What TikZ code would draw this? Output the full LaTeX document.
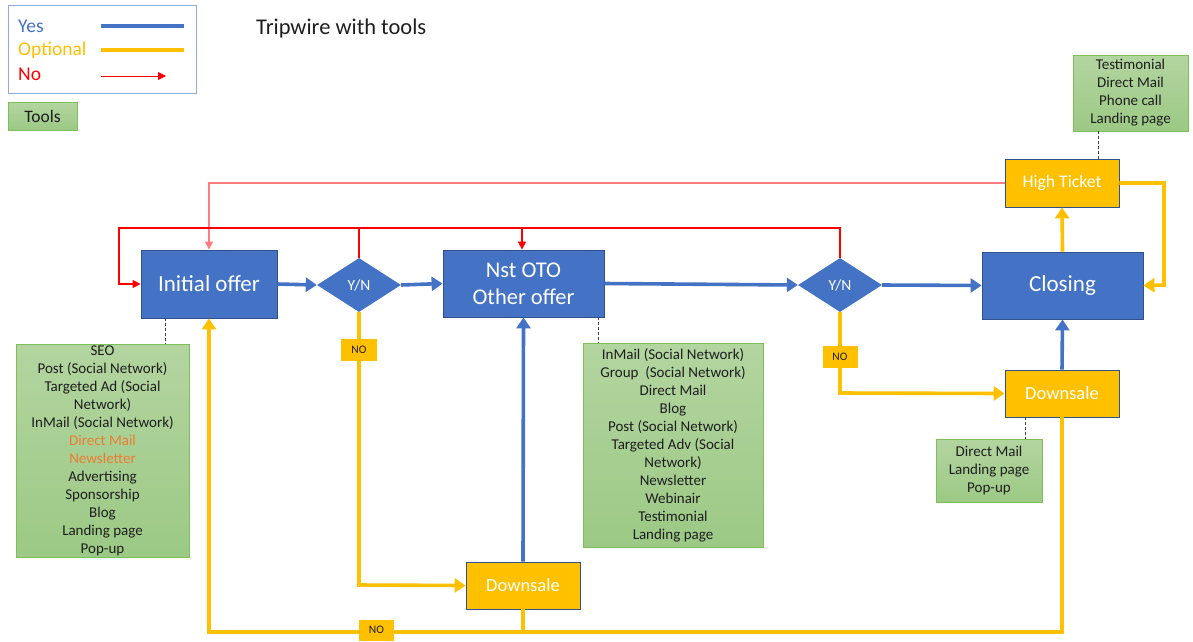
\documentclass[tikz,border=0pt]{standalone}
\usepackage{fontspec}
\setmainfont{Carlito}
\usetikzlibrary{arrows.meta,shapes.geometric}
\definecolor{offerblue}{HTML}{4472C4}
\definecolor{edgeblue}{HTML}{2F528F}
\definecolor{gold}{HTML}{FFC000}
\definecolor{greentop}{HTML}{B3D5A0}
\definecolor{greenbot}{HTML}{9CC985}
\definecolor{greenedge}{HTML}{7FBF5A}
\definecolor{legendedge}{HTML}{8FAADC}
\definecolor{softred}{HTML}{FF7C80}
\definecolor{toolorange}{HTML}{ED7D31}
\definecolor{inktext}{HTML}{1E1E1E}
\tikzset{
  offer/.style={draw=edgeblue, line width=0.8pt, fill=offerblue, text=white, inner sep=0pt, align=center},
  choice/.style={diamond, aspect=1.55, fill=offerblue, text=white, inner sep=0pt,
    minimum width=84pt, minimum height=54pt, font=\fontsize{15.5}{18}\selectfont},
  goldbox/.style={draw=edgeblue, line width=0.8pt, fill=gold, text=white, inner sep=0pt,
    font=\fontsize{18.5}{22}\selectfont},
  toolbox/.style={draw=greenedge, line width=0.8pt, top color=greentop, bottom color=greenbot,
    text=inktext, inner sep=0pt, align=center, font=\fontsize{15}{18}\selectfont},
  nolabel/.style={fill=gold, text=inktext, inner sep=0pt, minimum width=36pt, minimum height=22pt,
    font=\fontsize{11.5}{13}\selectfont},
  yesline/.style={draw=offerblue, line width=3.6pt, -{Triangle[length=11pt,width=14pt]}},
  optline/.style={draw=gold, line width=3.6pt},
  optarrow/.style={optline, -{Triangle[length=11pt,width=14pt]}},
  noline/.style={draw=red, line width=1.3pt},
  noarrow/.style={noline, -{Triangle[length=8pt,width=8pt]}},
  toollink/.style={draw=black!75, line width=0.8pt, dashed, dash pattern=on 3pt off 2pt},
  legendtext/.style={anchor=west, font=\fontsize{19.5}{22}\selectfont, inner sep=0pt}
}
\begin{document}
\begin{tikzpicture}[x=1pt,y=-1pt]
\useasboundingbox (0,0) rectangle (1193,641);

% legend
\node[draw=legendedge, line width=1pt, minimum width=188pt, minimum height=88pt, inner sep=0pt] (legend) at (102,49) {};
\node[legendtext, text=offerblue] (lgyes) at (18,26) {Yes};
\node[legendtext, text=gold] (lgopt) at (18,50) {Optional};
\node[legendtext, text=red] (lgno) at (18,74) {No};
\coordinate (ya) at (101,26); \coordinate (yb) at (184,26);
\coordinate (oa) at (101,50); \coordinate (ob) at (184,50);
\coordinate (na) at (101,76); \coordinate (nb) at (166,76);
\draw[draw=offerblue, line width=3.6pt] (ya) -- (yb);
\draw[optline] (oa) -- (ob);
\draw[noarrow, line width=1pt] (na) -- (nb);
\node[toolbox, minimum width=69pt, minimum height=28pt, font=\fontsize{17.5}{20}\selectfont] (tools) at (42.5,116) {Tools};

% title
\node[anchor=west, text=inktext, font=\fontsize{22.5}{26}\selectfont, inner sep=0pt] (title) at (256,28) {Tripwire with tools};

% main flow
\node[offer, minimum width=136pt, minimum height=68pt, font=\fontsize{23}{27}\selectfont] (init) at (209,284) {Initial offer};
\node[choice] (yn1) at (359,285) {Y/N};
\node[offer, minimum width=161pt, minimum height=67pt, font=\fontsize{22.5}{27}\selectfont] (oto) at (523.5,283.5) {Nst OTO\\Other offer};
\node[choice] (yn2) at (840,285) {Y/N};
\node[offer, minimum width=161pt, minimum height=67pt, font=\fontsize{23}{27}\selectfont] (close) at (1062.5,285.5) {Closing};
\node[goldbox, minimum width=114pt, minimum height=48pt, font=\fontsize{17.7}{21}\selectfont] (high) at (1062,183) {High Ticket};
\node[goldbox, minimum width=114pt, minimum height=47pt] (downr) at (1062,393.5) {Downsale};
\node[goldbox, minimum width=114pt, minimum height=47pt] (downb) at (523,585.5) {Downsale};

% tool lists
\node[toolbox, minimum width=173pt, minimum height=213pt] (t1) at (102.5,450.5)
  {SEO\\Post (Social Network)\\Targeted Ad (Social\\Network)\\InMail (Social Network)\\
   \textcolor{toolorange}{Direct Mail}\\\textcolor{toolorange}{Newsletter}\\Advertising\\
   Sponsorship\\Blog\\Landing page\\Pop-up};
\node[toolbox, minimum width=180pt, minimum height=204pt] (t2) at (673,445)
  {InMail (Social Network)\\Group\ \ (Social Network)\\Direct Mail\\Blog\\Post (Social Network)\\
   Targeted Adv (Social\\Network)\\Newsletter\\Webinair\\Testimonial\\Landing page};
\node[toolbox, minimum width=106pt, minimum height=63pt] (t3) at (989,470.5)
  {Direct Mail\\Landing page\\Pop-up};
\node[toolbox, minimum width=115pt, minimum height=76pt] (t4) at (1130.5,93)
  {Testimonial\\Direct Mail\\Phone call\\Landing page};

% dashed links from offers to their tools
\draw[toollink] (init.south -| 165,0) -- (t1.north -| 165,0);
\draw[toollink] (oto.south -| 598,0) -- (t2.north -| 598,0);
\draw[toollink] (downr.south -| 1025,0) -- (t3.north -| 1025,0);
\draw[toollink] (t4.south -| 1098,0) -- (high.north -| 1098,0);

% yes connectors
\draw[yesline] (init.east) -- (yn1.west);
\draw[yesline] (yn1.east) -- (oto.west);
\draw[yesline] (oto.east) -- (yn2.west);
\draw[yesline] (yn2.east) -- (close.west);
\draw[yesline] (downb.north) -- (oto.south);
\draw[yesline] (downr.north) -- (close.south);

% optional connectors
\coordinate (c1) at (359,585);
\coordinate (c2) at (840,393);
\coordinate (c3) at (1164,183);
\coordinate (c4) at (1164,285);
\coordinate (c5) at (1062,632);
\coordinate (c6) at (209,632);
\coordinate (c7) at (523,632);
\draw[optarrow] (yn1.south) -- (c1) -- (downb.west);
\draw[optarrow] (yn2.south) -- (c2) -- (downr.west);
\draw[optarrow] (close.north) -- (high.south);
\draw[optarrow] (high.east) -- (c3) -- (c4) -- (close.east);
\draw[optarrow] (downr.south) -- (c5) -- (c6) -- (init.south -| c6);
\draw[optline] (downb.south) -- (c7);

% "no" labels on optional branches
\node[nolabel] (no1) at (359,350) {NO};
\node[nolabel, minimum width=35pt] (no2) at (840,357) {NO};
\node[nolabel, minimum width=35pt, minimum height=21pt] (no3) at (376.5,630) {NO};

% no connectors
\coordinate (r1) at (209,183);
\coordinate (r2) at (359,228);
\coordinate (r3) at (119,228);
\coordinate (r4) at (119,284);
\coordinate (r5) at (840,228);
\coordinate (r6) at (522,228);
\draw[noarrow, draw=softred] (high.west) -- (r1) -- (init.north -| r1);
\draw[noarrow] (yn1.north) -- (r2) -- (r3) -- (r4) -- (init.west);
\draw[noarrow] (yn2.north) -- (r5) -- (r6) -- (oto.north -| r6);
\draw[noline] (r2) -- (r6);
\end{tikzpicture}
\end{document}
